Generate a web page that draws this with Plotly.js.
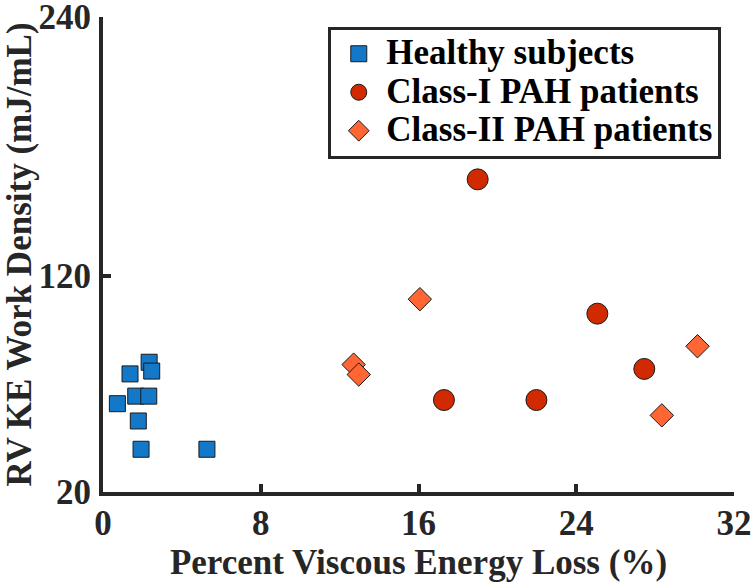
<!DOCTYPE html>
<html>
<head>
<meta charset="utf-8">
<script src="https://cdn.plot.ly/plotly-3.0.1.min.js"></script>
<style>
html,body{margin:0;padding:0;background:#fff;}
#chart{width:754px;height:585px;}
</style>
</head>
<body>
<div id="chart"></div>
<script>
// Data
const seriesNames = ["Healthy subjects", "Class-I PAH patients", "Class-II PAH patients"];

const healthyX = [0.73, 1.37, 1.66, 2.32, 2.34, 2.47, 1.79, 1.93, 5.27];
const healthyY = [60.9, 74.7, 64.4, 64.4, 80.1, 76.0, 52.9, 39.8, 39.8];

const class1X = [19.0, 25.07, 27.45, 17.29, 21.98];
const class1Y = [164.8, 102.6, 77.0, 62.6, 62.6];

const class2X = [16.07, 30.15, 28.34, 12.71, 12.97];
const class2Y = [109.3, 87.5, 55.5, 79.0, 74.4];

const xTicks = [0, 8, 16, 24, 32];
const yTicks = [20, 120, 240];

const dark = "#262626";
const fontFam = "Liberation Serif";

// legend text drawn at full size while the legend row height follows the smaller legend font
const legendName = n => '<span style="font-size:35px">' + n + '</span>';

const traces = [
  {
    x: healthyX, y: healthyY, name: legendName(seriesNames[0]), type: "scatter", mode: "markers",
    marker: {symbol: "square", size: 16, color: "#1478c8", line: {color: "#1a1a1a", width: 1}}
  },
  {
    x: class1X, y: class1Y, name: legendName(seriesNames[1]), type: "scatter", mode: "markers",
    marker: {symbol: "circle", size: 21, color: "#d12a00", line: {color: "#1a1a1a", width: 1}}
  },
  {
    x: class2X, y: class2Y, name: legendName(seriesNames[2]), type: "scatter", mode: "markers",
    marker: {symbol: "diamond", size: 18, color: "#ff6633", line: {color: "#1a1a1a", width: 1}}
  }
];

const layout = {
  width: 754, height: 585,
  margin: {l: 103, r: 20, t: 17, b: 93, pad: 0},
  paper_bgcolor: "#ffffff", plot_bgcolor: "#ffffff",
  font: {family: fontFam, color: dark, size: 35, weight: "bold"},
  showlegend: true,
  legend: {
    x: 0.357, y: 0.98, xanchor: "left", yanchor: "top",
    bgcolor: "#ffffff", bordercolor: dark, borderwidth: 3,
    font: {family: fontFam, size: 27.3, color: "#000000", weight: "bold"},
    itemwidth: 45
  },
  xaxis: {
    range: [0, 32], tickvals: xTicks, ticktext: xTicks.map(String),
    showline: true, linecolor: dark, linewidth: 4,
    ticks: "inside", ticklen: 8, tickwidth: 4, tickcolor: dark,
    showgrid: false, zeroline: false, automargin: false,
    ticklabeloverflow: "allow",
    tickfont: {family: fontFam, size: 35, color: dark, weight: "bold"},
    ticklabelstandoff: -3,
    title: {text: "Percent Viscous Energy Loss (%)", font: {family: fontFam, size: 35, color: dark, weight: "bold"}, standoff: 8}
  },
  yaxis: {
    range: [20, 240], tickvals: yTicks, ticktext: yTicks.map(String),
    showline: true, linecolor: dark, linewidth: 4,
    ticks: "inside", ticklen: 8, tickwidth: 4, tickcolor: dark,
    showgrid: false, zeroline: false, automargin: false,
    ticklabeloverflow: "allow",
    tickfont: {family: fontFam, size: 35, color: dark, weight: "bold"},
    ticklabelstandoff: 1,
    title: {text: "RV KE Work Density (mJ/mL)", font: {family: fontFam, size: 35, color: dark, weight: "bold"}, standoff: 2}
  }
};

Plotly.newPlot("chart", traces, layout, {displayModeBar: false, staticPlot: true});
</script>
</body>
</html>
